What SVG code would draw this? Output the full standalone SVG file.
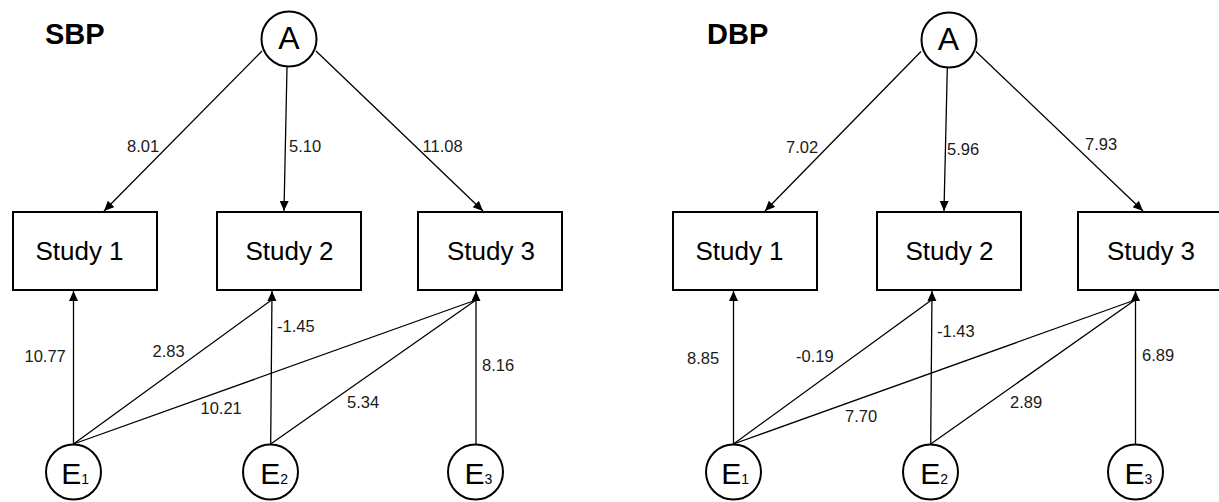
<svg xmlns="http://www.w3.org/2000/svg" width="1219" height="502" viewBox="0 0 1219 502">
<style>
text{font-family:"Liberation Sans",Arial,sans-serif;fill:#000}
.title{font-size:29px;font-weight:bold}
.lat{font-size:32px;text-anchor:middle}
.err{font-size:30px;text-anchor:middle}
.sub{font-size:14px}
.box{fill:#fff;stroke:#000;stroke-width:2}
.circ{fill:#fff;stroke:#000;stroke-width:2}
.study{font-size:26px;text-anchor:middle}
.lbl{font-size:16.5px;fill:#1a1a1a}
.ln{stroke:#000;stroke-width:1.3;fill:none}
.arr{marker-end:url(#ah)}
</style>
<defs>
<marker id="ah" markerUnits="userSpaceOnUse" markerWidth="11" markerHeight="10" refX="10" refY="4.5" orient="auto" viewBox="0 0 11 10">
<path d="M0,0 L10,4.5 L0,9 z" fill="#000"/>
</marker>
</defs>

<!-- LEFT PANEL: SBP -->
<text class="title" x="45" y="44">SBP</text>
<g id="connectors-sbp">
<line class="ln arr" x1="262" y1="51" x2="104" y2="211"/>
<line class="ln arr" x1="287" y1="67" x2="284" y2="211"/>
<line class="ln arr" x1="316" y1="51" x2="483" y2="211"/>
<line class="ln arr" x1="73.5" y1="444" x2="73.5" y2="291"/>
<line class="ln" x1="73.5" y1="444" x2="271.5" y2="300"/>
<line class="ln" x1="73.5" y1="444" x2="476" y2="300"/>
<line class="ln arr" x1="270.7" y1="444" x2="272" y2="291"/>
<line class="ln" x1="270.7" y1="444" x2="476" y2="300"/>
<line class="ln arr" x1="476" y1="444" x2="476" y2="291"/>
<text class="lbl" x="127" y="152">8.01</text>
<text class="lbl" x="289" y="152">5.10</text>
<text class="lbl" x="422.5" y="152">11.08</text>
<text class="lbl" x="24.5" y="362">10.77</text>
<text class="lbl" x="152.5" y="357">2.83</text>
<text class="lbl" x="277" y="332">-1.45</text>
<text class="lbl" x="200.5" y="414">10.21</text>
<text class="lbl" x="347" y="408">5.34</text>
<text class="lbl" x="482" y="371">8.16</text>
</g>
<g id="sbp-A"><circle class="circ" cx="289" cy="39" r="27.5"/><text class="lat" x="289" y="49">A</text></g>
<g id="sbp-study1"><rect class="box" x="13" y="212" width="144" height="78"/><text class="study" x="79.5" y="260">Study 1</text></g>
<g id="sbp-study2"><rect class="box" x="217" y="212" width="144" height="78"/><text class="study" x="289.5" y="260">Study 2</text></g>
<g id="sbp-study3"><rect class="box" x="418" y="212" width="144" height="78"/><text class="study" x="491" y="260">Study 3</text></g>
<g id="sbp-E1"><circle class="circ" cx="73.5" cy="472" r="27.5"/><text class="err" x="75.2" y="484">E<tspan class="sub">1</tspan></text></g>
<g id="sbp-E2"><circle class="circ" cx="270.5" cy="472" r="27.5"/><text class="err" x="274.2" y="484">E<tspan class="sub">2</tspan></text></g>
<g id="sbp-E3"><circle class="circ" cx="475.5" cy="472" r="27.5"/><text class="err" x="478.5" y="484">E<tspan class="sub">3</tspan></text></g>

<!-- RIGHT PANEL: DBP -->
<text class="title" x="707" y="44">DBP</text>
<g id="connectors-dbp">
<line class="ln arr" x1="921" y1="51.5" x2="765" y2="211"/>
<line class="ln arr" x1="947.3" y1="68" x2="944" y2="211"/>
<line class="ln arr" x1="976" y1="51.5" x2="1143" y2="211"/>
<line class="ln arr" x1="733.5" y1="444" x2="733.5" y2="291"/>
<line class="ln" x1="733.5" y1="444" x2="931.5" y2="300"/>
<line class="ln" x1="733.5" y1="444" x2="1135" y2="300"/>
<line class="ln arr" x1="930.7" y1="444" x2="932" y2="291"/>
<line class="ln" x1="930.7" y1="444" x2="1135" y2="300"/>
<line class="ln arr" x1="1135.5" y1="444" x2="1135.5" y2="291"/>
<text class="lbl" x="786" y="153">7.02</text>
<text class="lbl" x="947" y="155">5.96</text>
<text class="lbl" x="1085" y="150">7.93</text>
<text class="lbl" x="687" y="364">8.85</text>
<text class="lbl" x="796" y="362">-0.19</text>
<text class="lbl" x="937" y="337">-1.43</text>
<text class="lbl" x="845" y="422">7.70</text>
<text class="lbl" x="1010" y="408">2.89</text>
<text class="lbl" x="1142" y="361">6.89</text>
</g>
<g id="dbp-A"><circle class="circ" cx="949" cy="40" r="27.5"/><text class="lat" x="948.5" y="49.5">A</text></g>
<g id="dbp-study1"><rect class="box" x="673" y="212" width="144" height="78"/><text class="study" x="739.5" y="260">Study 1</text></g>
<g id="dbp-study2"><rect class="box" x="877" y="212" width="144" height="78"/><text class="study" x="949.5" y="260">Study 2</text></g>
<g id="dbp-study3"><rect class="box" x="1078" y="212" width="144" height="78"/><text class="study" x="1151" y="260">Study 3</text></g>
<g id="dbp-E1"><circle class="circ" cx="733.5" cy="472" r="27.5"/><text class="err" x="735.2" y="484">E<tspan class="sub">1</tspan></text></g>
<g id="dbp-E2"><circle class="circ" cx="930.5" cy="472" r="27.5"/><text class="err" x="934.2" y="484">E<tspan class="sub">2</tspan></text></g>
<g id="dbp-E3"><circle class="circ" cx="1135.5" cy="472" r="27.5"/><text class="err" x="1138.5" y="484">E<tspan class="sub">3</tspan></text></g>
</svg>
